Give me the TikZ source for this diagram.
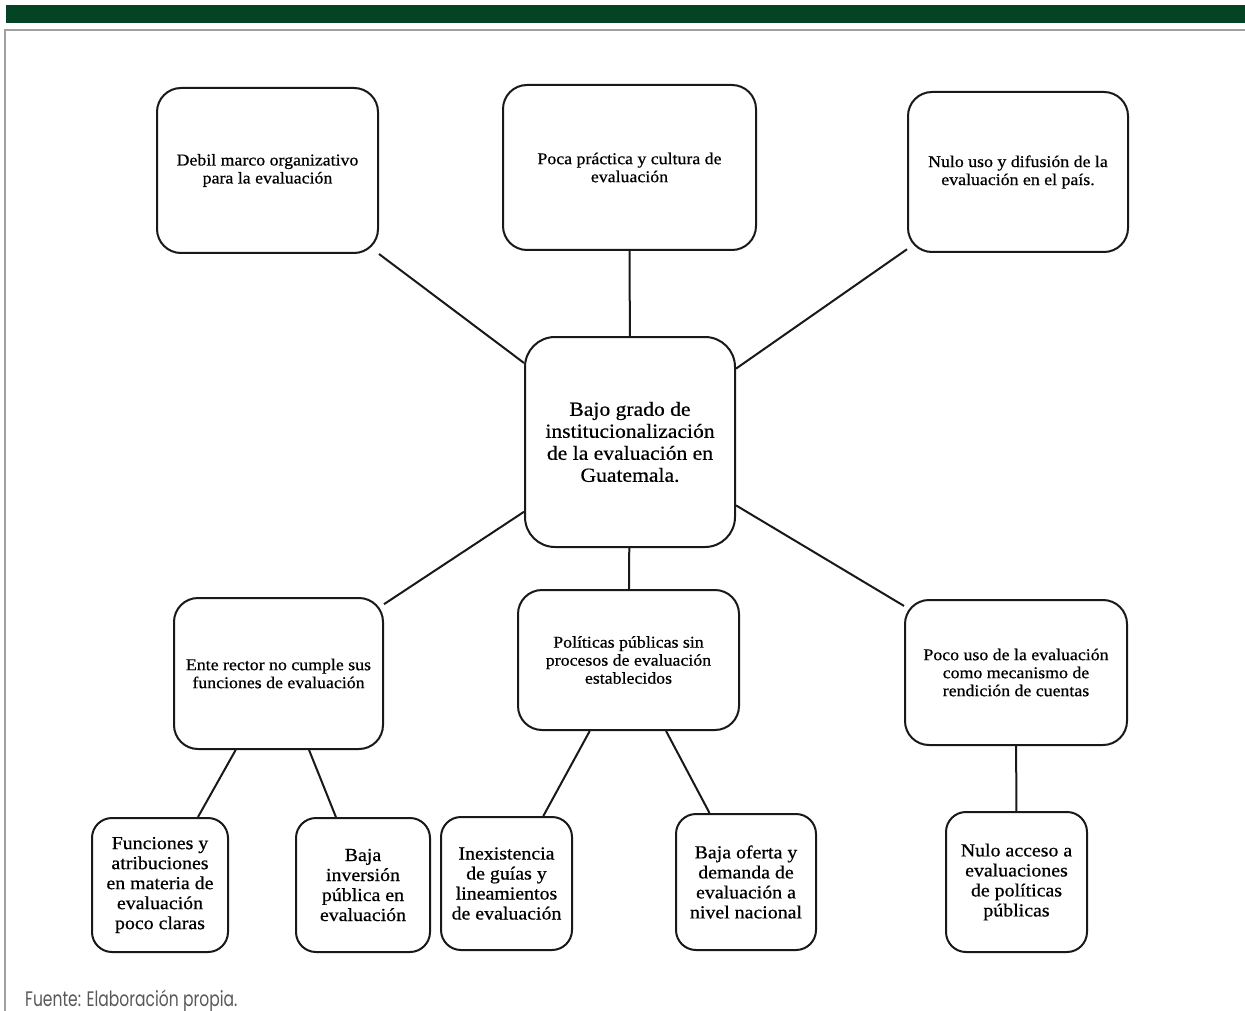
\documentclass[tikz,border=0pt]{standalone}
\usepackage{fontspec}
\usepackage{graphicx}
\newfontfamily\boxserif[FakeStretch=1.08,FakeBold=0.6]{Liberation Serif}
\newfontfamily\fuentefont{Poppins}
\definecolor{bargreen}{RGB}{4,67,36}
\definecolor{framegray}{RGB}{160,160,160}
\begin{document}
\begin{tikzpicture}[x=1pt,y=-1pt,
  box/.style={draw=black!90, line width=2pt, rounded corners=24pt, align=center,
    inner sep=0pt, fill=white, text=black},
  topbox/.style={box, font=\boxserif\fontsize{16.5}{18}\selectfont},
  midbox/.style={box, font=\boxserif\fontsize{16.5}{18}\selectfont},
  lowbox/.style={box, rounded corners=20pt, font=\boxserif\fontsize{18.4}{20}\selectfont},
  centerbox/.style={box, rounded corners=30pt, font=\boxserif\fontsize{20}{22}\selectfont},
  link/.style={draw=black!90, line width=2pt}]
\useasboundingbox (0,0) rectangle (1245,1011);
% header bar and frame
\fill[bargreen] (6,5) rectangle (1245,23);
\draw[framegray, line width=2pt] (5,1011) -- (5,30) -- (1245,30);
% nodes
\node[topbox, minimum width=221pt, minimum height=165pt] (b1) at (267.5,170.5) {Debil marco organizativo\\para la evaluación};
\node[topbox, minimum width=253pt, minimum height=165pt] (b2) at (629.5,167.5) {Poca práctica y cultura de\\evaluación};
\node[topbox, minimum width=220pt, minimum height=160pt] (b3) at (1018,172) {Nulo uso y difusión de la\\evaluación en el país.};
\node[centerbox, minimum width=210pt, minimum height=210pt] (c) at (630,442) {Bajo grado de\\institucionalización\\de la evaluación en\\Guatemala.};
\node[midbox, minimum width=209pt, minimum height=151pt] (b5) at (278.5,673.5) {Ente rector no cumple sus\\funciones de evaluación};
\node[midbox, minimum width=221pt, minimum height=140pt] (b6) at (628.5,660) {Políticas públicas sin\\procesos de evaluación\\establecidos};
\node[midbox, minimum width=222pt, minimum height=145pt] (b7) at (1016,672.5) {Poco uso de la evaluación\\como mecanismo de\\rendición de cuentas};
\node[lowbox, minimum width=136pt, minimum height=134pt] (b8) at (160,885) {Funciones y\\atribuciones\\en materia de\\evaluación\\poco claras};
\node[lowbox, minimum width=134pt, minimum height=134pt] (b9) at (363,885) {Baja\\inversión\\pública en\\evaluación};
\node[lowbox, minimum width=131pt, minimum height=133pt] (b10) at (506.5,883.5) {Inexistencia\\de guías y\\lineamientos\\de evaluación};
\node[lowbox, minimum width=140pt, minimum height=136pt] (b11) at (746,882) {Baja oferta y\\demanda de\\evaluación a\\nivel nacional};
\node[lowbox, minimum width=141pt, minimum height=140pt] (b12) at (1016.5,882) {Nulo acceso a\\evaluaciones\\de políticas\\públicas};
% connectors
\draw[link] (b1) -- (c);
\draw[link] (b2) -- (c);
\draw[link] (b3) -- (c);
\draw[link] (c) -- (b5);
\draw[link] (c) -- (b6);
\draw[link] (c) -- (b7);
\draw[link] (b5) -- (b8);
\draw[link] (b5) -- (b9);
\draw[link] (b6) -- (b10);
\draw[link] (b6) -- (b11);
\draw[link] (b7) -- (b12);
% source note
\node[anchor=base west, inner sep=0pt, text=black!65, font=\fuentefont\fontsize{21}{21}\selectfont] (src) at (25,1006) {\scalebox{0.74}[1]{Fuente: Elaboración propia.}};
\end{tikzpicture}
\end{document}
